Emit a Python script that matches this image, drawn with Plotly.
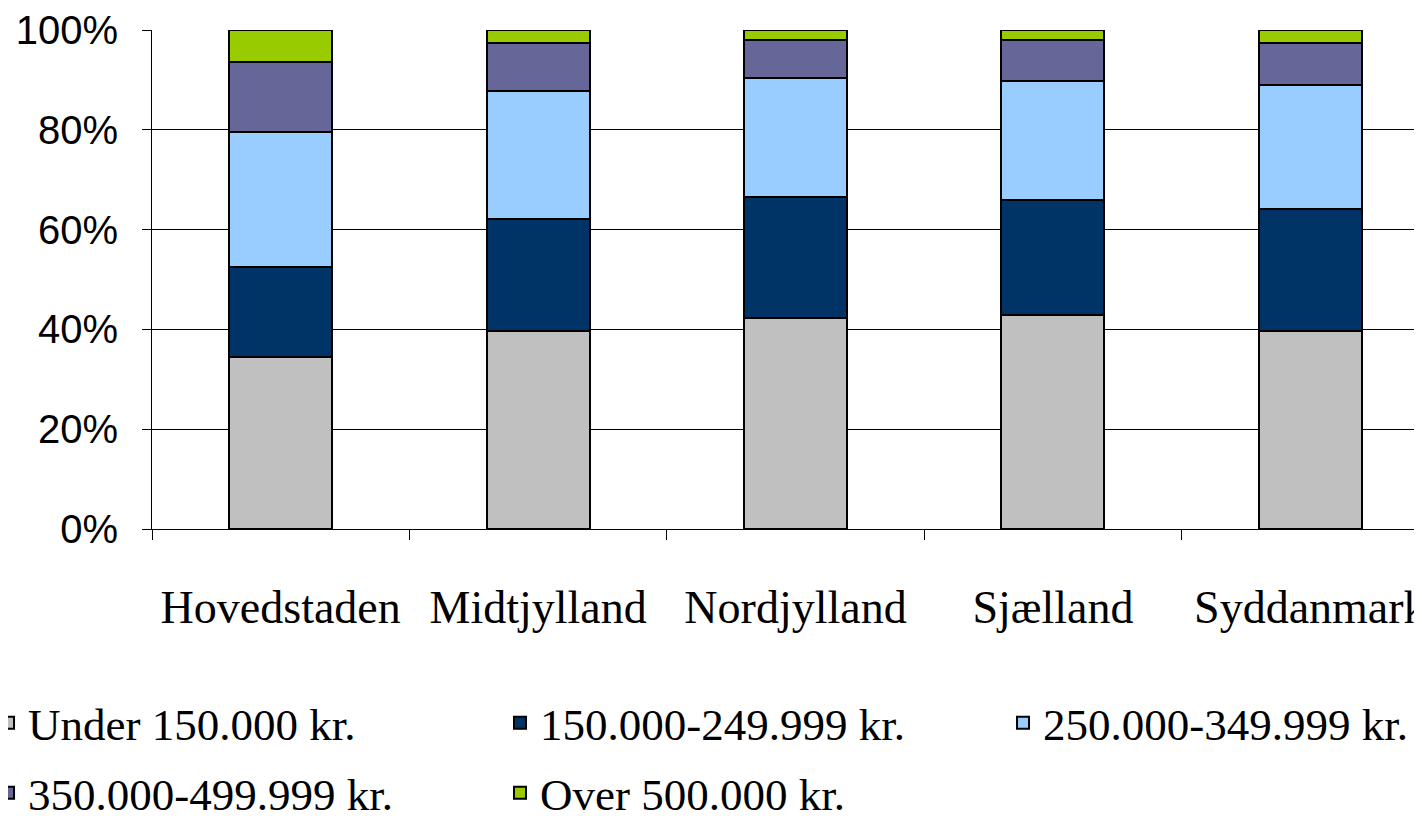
import plotly.graph_objects as go

regions = ["Hovedstaden", "Midtjylland", "Nordjylland", "Sjælland", "Syddanmark"]
series_names = ["Under 150.000 kr.", "150.000-249.999 kr.", "250.000-349.999 kr.",
                "350.000-499.999 kr.", "Over 500.000 kr."]
under_150 = [34.5, 39.7, 42.3, 42.9, 39.7]
r150_249 = [18.1, 22.4, 24.3, 23.0, 24.4]
r250_349 = [27.0, 25.7, 23.7, 23.9, 24.9]
r350_499 = [13.9, 9.6, 7.7, 8.2, 8.4]
over_500 = [6.5, 2.6, 2.0, 2.0, 2.6]
y_tick_vals = [0, 20, 40, 60, 80, 100]
y_tick_text = ["0%", "20%", "40%", "60%", "80%", "100%"]

colors = ["#C0C0C0", "#003366", "#99CCFF", "#666699", "#99CC00"]
values = [under_150, r150_249, r250_349, r350_499, over_500]
legend_ids = ["legend", "legend2", "legend3", "legend4", "legend5"]
# legend entry positions (paper coords): columns and rows
legend_x = [-0.1283, 0.2723, 0.6659, -0.1283, 0.2723]
legend_y = [-0.389, -0.389, -0.389, -0.529, -0.529]

fig = go.Figure()
for name, vals, col, lg in zip(series_names, values, colors, legend_ids):
    fig.add_trace(go.Bar(
        x=regions, y=vals, name=name, legend=lg,
        marker=dict(color=col, line=dict(color="black", width=2)),
        width=0.4,
    ))

serif = "Liberation Serif"
legends = {}
for lg, lx, ly in zip(legend_ids, legend_x, legend_y):
    legends[lg] = dict(
        x=lx, y=ly, xanchor="left", yanchor="middle",
        orientation="h",
        font=dict(family=serif, size=45, color="black"),
        bgcolor="rgba(0,0,0,0)",
    )

fig.update_layout(
    width=1422, height=816,
    barmode="stack",
    plot_bgcolor="white", paper_bgcolor="white",
    margin=dict(l=144, r=0, t=22, b=295, autoexpand=False),
    showlegend=True,
    xaxis=dict(
        range=[-0.5, 4.465],
        automargin=False,
        showline=True, linecolor="black", linewidth=1,
        ticks="outside", tickson="boundaries", ticklen=10, tickcolor="black",
        tickfont=dict(family=serif, size=46, color="black"),
        ticklabelstandoff=38,
        showgrid=False,
    ),
    yaxis=dict(
        range=[0, 100],
        automargin=False,
        tickvals=y_tick_vals, ticktext=y_tick_text,
        showline=True, linecolor="black", linewidth=1,
        ticks="outside", ticklen=9, tickcolor="black",
        tickfont=dict(family="Liberation Sans", size=40, color="black"),
        ticklabelstandoff=16,
        showgrid=True, gridcolor="black", gridwidth=1,
        zeroline=False,
    ),
    **legends,
)

fig.write_html("out.html")
